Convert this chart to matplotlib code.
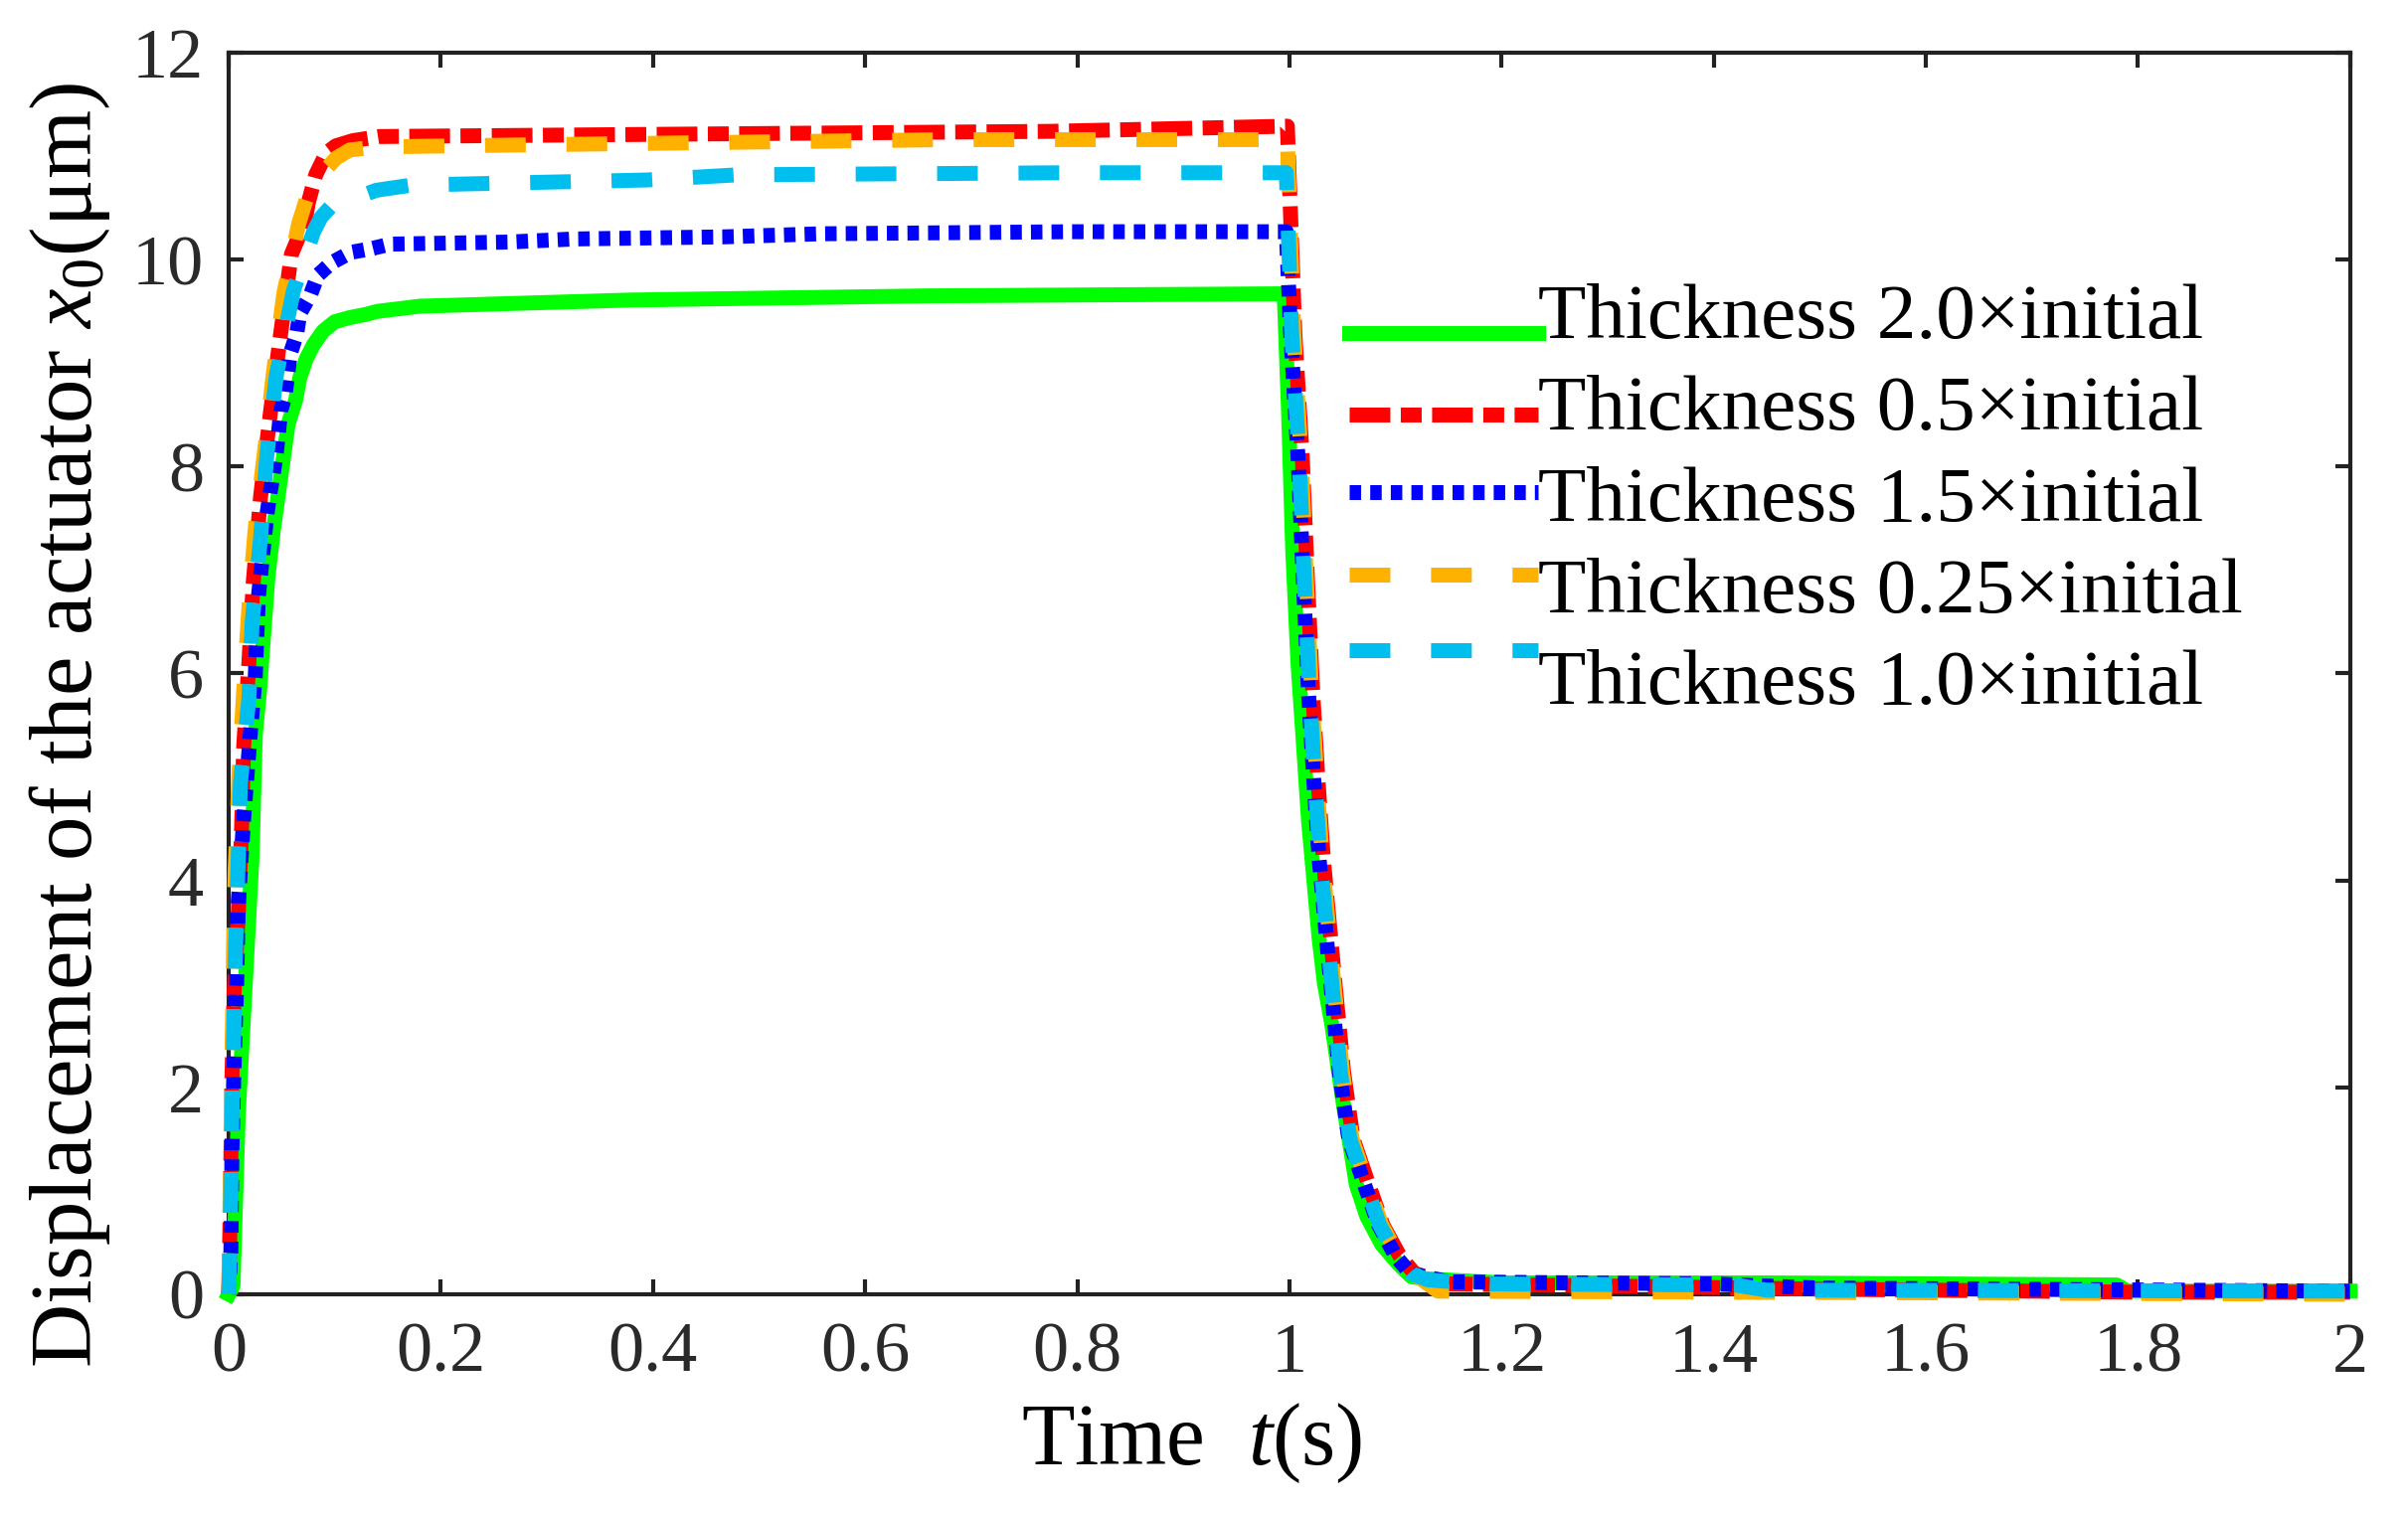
import matplotlib
matplotlib.use("Agg")
import matplotlib.pyplot as plt
from matplotlib.legend_handler import HandlerLine2D

plt.rcParams['font.family'] = ['Liberation Serif', 'DejaVu Serif']
plt.rcParams['mathtext.fontset'] = 'custom'
plt.rcParams['mathtext.rm'] = 'Liberation Serif'
plt.rcParams['mathtext.it'] = 'Liberation Serif:italic'

# time (s) and displacement (um) of each curve
t_20 = [0, 0.004, 0.009, 0.016, 0.022, 0.025, 0.029, 0.033, 0.037, 0.042, 0.047, 0.052,
        0.056, 0.063, 0.067, 0.073, 0.080, 0.089, 0.100, 0.114, 0.129, 0.14, 0.18, 0.38,
        0.66, 0.995, 0.999, 1.003, 1.008, 1.013, 1.018, 1.023, 1.028, 1.033, 1.040, 1.050,
        1.063, 1.073, 1.087, 1.103, 1.115, 1.127, 1.2, 1.45, 1.78, 1.79, 2.0]
x_20 = [0, 0.08, 1.75, 3.08, 4.24, 5.40, 5.83, 6.39, 6.94, 7.38, 7.75, 8.12,
        8.41, 8.64, 8.86, 9.04, 9.18, 9.31, 9.40, 9.44, 9.47, 9.50, 9.55, 9.61,
        9.65, 9.67, 8.56, 7.2, 6.1, 5.34, 4.57, 4.0, 3.43, 3.0, 2.6, 1.89,
        1.06, 0.75, 0.48, 0.29, 0.17, 0.15, 0.11, 0.11, 0.09, 0.03, 0.03]

t_05 = [0, 0.001, 0.002, 0.003, 0.005, 0.009, 0.012, 0.014, 0.019, 0.023, 0.030, 0.039,
        0.049, 0.059, 0.072, 0.075, 0.082, 0.092, 0.101, 0.117, 0.142, 0.39, 0.775,
        0.998, 1.005, 1.012, 1.017, 1.022, 1.027, 1.032, 1.037, 1.042, 1.051, 1.060,
        1.075, 1.088, 1.104, 1.118, 1.125, 1.15, 1.3, 1.5, 1.8, 2.0]
x_05 = [0, 0.6, 1.31, 2.10, 2.91, 3.68, 4.47, 5.28, 6.11, 6.87, 7.71, 8.50,
        9.29, 10.05, 10.37, 10.55, 10.82, 11.03, 11.10, 11.15, 11.19, 11.21, 11.24,
        11.29, 9.3, 8.1, 6.9, 5.8, 4.95, 4.2, 3.65, 3.1, 2.15, 1.5,
        1.05, 0.67, 0.37, 0.2, 0.18, 0.1, 0.08, 0.05, 0.02, 0.02]

t_15 = [0, 0.002, 0.003, 0.005, 0.0075, 0.009, 0.014, 0.020, 0.025, 0.028, 0.030, 0.036,
        0.039, 0.042, 0.045, 0.049, 0.053, 0.058, 0.064, 0.067, 0.077, 0.084, 0.097,
        0.115, 0.136, 0.152, 0.264, 0.326, 0.466, 0.558, 0.794, 0.997, 1.001, 1.008,
        1.013, 1.018, 1.023, 1.028, 1.033, 1.038, 1.047, 1.056, 1.071, 1.084, 1.100,
        1.114, 1.15, 1.4, 1.5, 2.0]
x_15 = [0, 0.42, 1.40, 2.20, 3.01, 3.79, 4.59, 5.38, 5.97, 6.75, 6.95, 7.54,
        7.75, 7.93, 8.14, 8.54, 8.68, 9.09, 9.28, 9.48, 9.66, 9.85, 9.97,
        10.07, 10.11, 10.15, 10.17, 10.20, 10.22, 10.25, 10.27, 10.27, 9.3, 8.1,
        6.9, 5.8, 4.95, 4.2, 3.65, 3.1, 2.15, 1.5, 1.05, 0.67, 0.37,
        0.2, 0.12, 0.1, 0.06, 0.03]

t_025 = [0, 0.002, 0.004, 0.006, 0.010, 0.015, 0.020, 0.025, 0.033, 0.042, 0.052, 0.066,
         0.073, 0.085, 0.101, 0.114, 0.14, 0.286, 0.679, 0.998, 1.004, 1.011, 1.016,
         1.021, 1.026, 1.031, 1.036, 1.041, 1.050, 1.059, 1.074, 1.087, 1.103, 1.117,
         1.14, 2.0]
x_025 = [0, 1.5, 3.0, 4.1, 5.1, 6.0, 6.8, 7.41, 8.08, 8.9, 9.68, 10.35,
         10.58, 10.8, 10.98, 11.06, 11.09, 11.11, 11.16, 11.16, 9.3, 8.1, 6.9,
         5.8, 4.95, 4.2, 3.65, 3.1, 2.15, 1.5, 1.05, 0.67, 0.37, 0.2,
         0.03, 0.0]

t_10 = [0, 0.001, 0.003, 0.0066, 0.011, 0.019, 0.022, 0.030, 0.036, 0.045, 0.061, 0.080,
        0.087, 0.096, 0.139, 0.152, 0.172, 0.394, 0.48, 0.79, 0.997, 1.002, 1.009,
        1.014, 1.019, 1.024, 1.029, 1.034, 1.039, 1.048, 1.057, 1.072, 1.085, 1.101,
        1.115, 1.13, 1.18, 1.42, 1.45, 2.0]
x_10 = [0, 0.4, 1.73, 3.39, 4.94, 5.76, 6.49, 7.31, 8.12, 8.89, 9.70, 10.27,
        10.41, 10.51, 10.67, 10.69, 10.72, 10.77, 10.82, 10.84, 10.84, 9.3, 8.1,
        6.9, 5.8, 4.95, 4.2, 3.65, 3.1, 2.15, 1.5, 1.05, 0.67, 0.37,
        0.2, 0.14, 0.1, 0.09, 0.04, 0.03]

labels = ['Thickness 2.0×initial', 'Thickness 0.5×initial', 'Thickness 1.5×initial',
          'Thickness 0.25×initial', 'Thickness 1.0×initial']
colors = ['#00FF00', '#FF0000', '#0000FF', '#FFB100', '#00BFEE']
dashes = [None, (2.73, 0.7, 1.4, 0.7), (0.77, 0.61), (2.73, 2.73), (2.73, 2.73)]
series = [(t_20, x_20), (t_05, x_05), (t_15, x_15), (t_025, x_025), (t_10, x_10)]
# in the original the legend lines are packed tighter than the texts
handle_shift = [0.586, 0.33, -0.03, -0.275, -0.68]


class ShiftedLine(HandlerLine2D):
    def __init__(self, shift, **kw):
        super().__init__(**kw)
        self.shift = shift

    def create_artists(self, legend, orig_handle, xdescent, ydescent, width, height, fontsize, trans):
        return super().create_artists(legend, orig_handle, xdescent,
                                      ydescent + self.shift * fontsize,
                                      width, height, fontsize, trans)


fig = plt.figure(figsize=(24.22, 15.24), dpi=100)
ax = fig.add_axes([0.095, 0.1457, 0.881, 0.8195])

for (t, x), lab, c, d in zip(series, labels, colors, dashes):
    line, = ax.plot(t, x, color=c, lw=10.8, label=lab, zorder=3, clip_on=False)
    if d is not None:
        line.set_dashes(d)

ax.set_xlim(0, 2)
ax.set_ylim(0, 12)
ax.set_xticks([i * 0.2 for i in range(11)])
ax.set_xticklabels(['0', '0.2', '0.4', '0.6', '0.8', '1', '1.2', '1.4', '1.6', '1.8', '2'])
ax.set_yticks(range(0, 13, 2))

ax.tick_params(direction='in', top=True, right=True, length=11, width=3,
               color='#222222', labelsize=52, labelcolor='#2a2a2a')
ax.tick_params(axis='x', pad=20)
ax.tick_params(axis='y', pad=18)
for s in ax.spines.values():
    s.set_linewidth(3)
    s.set_color('#222222')

ax.set_xlabel(r'Time  $t$(s)', fontsize=63)
ax.xaxis.set_label_coords(0.454, -0.086)
ax.set_ylabel(r'Displacement of the actuator $x_0$(μm)', fontsize=64)
ax.yaxis.set_label_coords(-0.055, 0.458)

h = [l for l in ax.get_lines()]
ax.legend(handles=h, loc='upper left', bbox_to_anchor=(0.528, 0.815), frameon=False,
          fontsize=57, handlelength=2.4, handletextpad=0.0, labelspacing=0.25,
          borderpad=0, borderaxespad=0,
          handler_map={l: ShiftedLine(s) for l, s in zip(h, handle_shift)})

fig.savefig('out.png', dpi=100)
